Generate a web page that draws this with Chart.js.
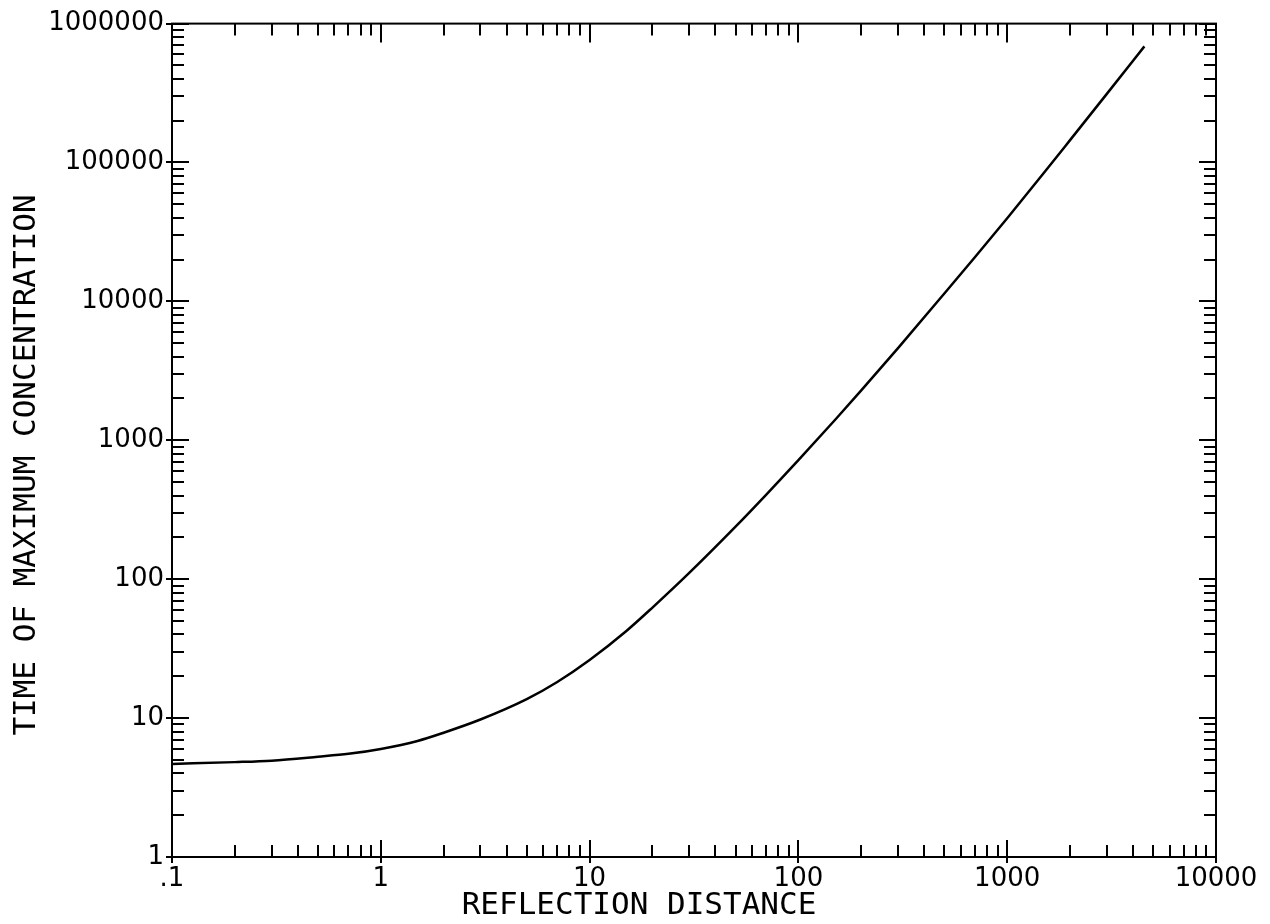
<!DOCTYPE html>
<html>
<head>
<meta charset="utf-8">
<title>Time of maximum concentration</title>
<script src="https://cdn.jsdelivr.net/npm/chart.js@4.4.0/dist/chart.umd.min.js"></script>
<style>
  html, body { margin: 0; padding: 0; background: #fff; }
  #wrap { width: 1270px; height: 924px; }
</style>
</head>
<body>
<div id="wrap"><canvas id="peakChart" width="1270" height="924"></canvas></div>
<script>
// Time of maximum concentration against reflection distance, log-log

const distance = [0.1, 0.2, 0.3, 0.5, 0.7, 1, 1.5, 2, 3, 5, 7, 10, 15, 20, 30, 50, 70, 100, 150, 200, 300, 500, 700, 1000, 1500, 2000, 3000, 4540];
const timeMax  = [4.68, 4.82, 4.94, 5.27, 5.53, 6.0, 6.85, 7.85, 9.77, 13.7, 18.2, 26.2, 42.4, 62.5, 111, 239, 405, 719, 1406, 2286, 4613, 11400, 20800, 39700, 84300, 144900, 311900, 685500];

// decade ticks and their labels
const xMajor = [0.1, 1, 10, 100, 1000, 10000];
const xTickLabels = ['.1', '1', '10', '100', '1000', '10000'];
const yMajor = [1, 10, 100, 1000, 10000, 100000, 1000000];
const yTickLabels = ['1', '10', '100', '1000', '10000', '100000', '1000000'];

const xTitle = 'REFLECTION DISTANCE';
const yTitle = 'TIME OF MAXIMUM CONCENTRATION';

const tickFont = { family: '"DejaVu Sans"', size: 26 };

// box frame, inward log ticks on all four sides, axis titles
const framePlugin = {
    id: 'frameTicks',
    afterDraw(chart) {
        const ctx = chart.ctx;
        const a = chart.chartArea;
        const x = chart.scales.x;
        const y = chart.scales.y;
        const minor = 12, major = 17, out = 6;

        ctx.save();
        ctx.strokeStyle = '#000';
        ctx.lineWidth = 2;
        ctx.strokeRect(a.left, a.top, a.right - a.left, a.bottom - a.top);

        ctx.beginPath();
        xMajor.forEach(function(d, i) {
            const steps = i < xMajor.length - 1 ? 9 : 1;
            for (let k = 1; k <= steps; k++) {
                const px = Math.round(x.getPixelForValue(d * k));
                if (k === 1) {
                    ctx.moveTo(px, a.bottom + out); ctx.lineTo(px, a.bottom - major);
                    ctx.moveTo(px, a.top); ctx.lineTo(px, a.top + major + 2);
                } else {
                    ctx.moveTo(px, a.bottom); ctx.lineTo(px, a.bottom - minor);
                    ctx.moveTo(px, a.top); ctx.lineTo(px, a.top + minor);
                }
            }
        });
        yMajor.forEach(function(d, i) {
            const steps = i < yMajor.length - 1 ? 9 : 1;
            for (let k = 1; k <= steps; k++) {
                const py = Math.round(y.getPixelForValue(d * k));
                if (k === 1) {
                    ctx.moveTo(a.left - out, py); ctx.lineTo(a.left + major, py);
                    ctx.moveTo(a.right, py); ctx.lineTo(a.right - major, py);
                } else {
                    ctx.moveTo(a.left, py); ctx.lineTo(a.left + minor, py);
                    ctx.moveTo(a.right, py); ctx.lineTo(a.right - minor, py);
                }
            }
        });
        ctx.stroke();

        // axis titles
        ctx.fillStyle = '#000';
        ctx.font = '31px "DejaVu Sans Mono"';
        ctx.textAlign = 'center';
        ctx.textBaseline = 'middle';
        ctx.fillText(xTitle, 639, 906);
        ctx.translate(27, 465);
        ctx.rotate(-Math.PI / 2);
        ctx.fillText(yTitle, 0, 0);
        ctx.restore();
    }
};

const points = distance.map(function(d, i) { return { x: d, y: timeMax[i] }; });

new Chart(document.getElementById('peakChart'), {
    type: 'line',
    data: {
        datasets: [{
            data: points,
            borderColor: '#000',
            borderWidth: 2.5,
            pointRadius: 0,
            fill: false,
            cubicInterpolationMode: 'monotone'
        }]
    },
    options: {
        responsive: false,
        animation: false,
        layout: { padding: { top: 20, right: 54, left: 0, bottom: 0 } },
        plugins: {
            legend: { display: false },
            tooltip: { enabled: false }
        },
        scales: {
            x: {
                type: 'logarithmic',
                min: 0.1,
                max: 10000,
                grid: { display: false, drawTicks: false },
                border: { display: false },
                afterBuildTicks: function(scale) {
                    scale.ticks = xMajor.map(function(v) { return { value: v }; });
                },
                afterFit: function(scale) { scale.height = 67; },
                ticks: {
                    autoSkip: false,
                    maxRotation: 0,
                    padding: 7,
                    color: '#000',
                    font: tickFont,
                    callback: function(value, index) { return xTickLabels[index]; }
                }
            },
            y: {
                type: 'logarithmic',
                min: 1,
                max: 1000000,
                grid: { display: false, drawTicks: false },
                border: { display: false },
                afterBuildTicks: function(scale) {
                    scale.ticks = yMajor.map(function(v) { return { value: v }; });
                },
                afterFit: function(scale) { scale.width = 172; },
                ticks: {
                    autoSkip: false,
                    padding: 8,
                    color: '#000',
                    font: tickFont,
                    callback: function(value, index) { return yTickLabels[index]; }
                }
            }
        }
    },
    plugins: [framePlugin]
});
</script>
</body>
</html>
